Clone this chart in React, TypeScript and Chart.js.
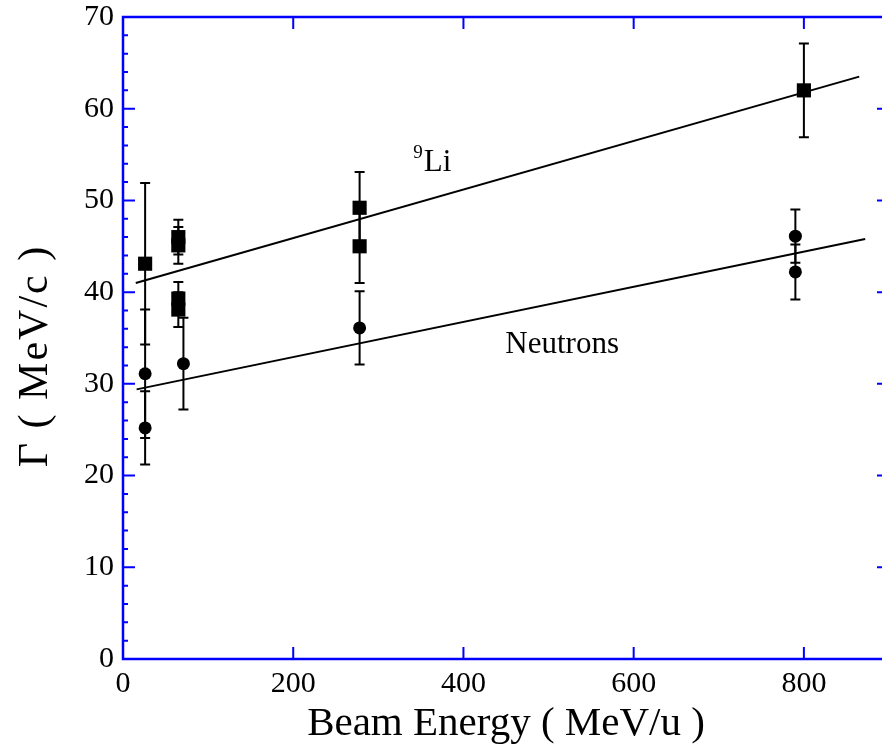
import { useEffect, useRef } from 'react';
import { Chart, registerables } from 'chart.js';

Chart.register(...registerables);

// Axis ticks
const xTicks = [0, 200, 400, 600, 800];
const yTicks = [0, 10, 20, 30, 40, 50, 60, 70];
const yMinorStep = 2;

// 9Li fragment widths
const liEnergy = [26, 65, 65, 65, 65, 278, 278, 800];
const liGamma = [43.1, 46.0, 45.1, 39.3, 38.1, 49.2, 45.0, 62.0];
const liError = [8.8, 1.9, 2.0, 1.8, 1.9, 3.9, 4.0, 5.1];

// Neutron widths
const nEnergy = [26, 26, 71, 278, 790, 790];
const nGamma = [31.1, 25.2, 32.2, 36.1, 46.1, 42.2];
const nError = [7.0, 4.0, 5.0, 4.0, 2.9, 3.0];

// Linear fits (end points)
const liFitEnergy = [15, 865];
const liFitGamma = [41.0, 63.5];
const nFitEnergy = [16, 872];
const nFitGamma = [29.4, 45.8];

// Curve labels (left / baseline anchored for 9Li, centred for neutrons)
const liLabel = { x: 341, y: 53.2, mass: '9', name: 'Li' };
const nLabel = { x: 516, y: 33.4, text: 'Neutrons' };

const xTitle = 'Beam Energy ( MeV/u )';
const yTitle = 'Γ ( MeV/c )';

const FONT = '"Liberation Serif", "Times New Roman", serif';
const AXIS_BLUE = '#0000ff';

// The plot frame runs slightly past the right edge of the view.
const CANVAS_W = 890;
const CANVAS_H = 751;

const toPoints = (xs: number[], ys: number[]) => xs.map((x, i) => ({ x, y: ys[i] }));

const errorBarPlugin = {
  id: 'errorBars',
  beforeDatasetsDraw(chart: any) {
    const { ctx } = chart;
    const xs = chart.scales.x;
    const ys = chart.scales.y;
    const groups = [
      { e: liEnergy, g: liGamma, err: liError },
      { e: nEnergy, g: nGamma, err: nError },
    ];
    ctx.save();
    ctx.strokeStyle = '#000';
    ctx.lineWidth = 2;
    for (const grp of groups) {
      grp.e.forEach((en, i) => {
        const px = xs.getPixelForValue(en);
        const top = ys.getPixelForValue(grp.g[i] + grp.err[i]);
        const bot = ys.getPixelForValue(grp.g[i] - grp.err[i]);
        ctx.beginPath();
        ctx.moveTo(px, top);
        ctx.lineTo(px, bot);
        ctx.moveTo(px - 5, top);
        ctx.lineTo(px + 5, top);
        ctx.moveTo(px - 5, bot);
        ctx.lineTo(px + 5, bot);
        ctx.stroke();
      });
    }
    ctx.restore();
  },
};

const framePlugin = {
  id: 'frame',
  afterDatasetsDraw(chart: any) {
    const { ctx, chartArea: a } = chart;
    const xs = chart.scales.x;
    const ys = chart.scales.y;
    ctx.save();
    ctx.strokeStyle = AXIS_BLUE;
    ctx.lineWidth = 2.5;
    ctx.strokeRect(a.left, a.top, a.right - a.left, a.bottom - a.top);
    ctx.lineWidth = 2;
    ctx.beginPath();
    for (const v of xTicks) {
      const px = xs.getPixelForValue(v);
      ctx.moveTo(px, a.bottom);
      ctx.lineTo(px, a.bottom - 12);
      ctx.moveTo(px, a.top);
      ctx.lineTo(px, a.top + 12);
    }
    const yMax = yTicks[yTicks.length - 1];
    for (let v = yTicks[0]; v <= yMax; v += yMinorStep) {
      const py = ys.getPixelForValue(v);
      const len = v % 10 === 0 ? 12 : 5;
      ctx.moveTo(a.left, py);
      ctx.lineTo(a.left + len, py);
      ctx.moveTo(a.right, py);
      ctx.lineTo(a.right - len, py);
    }
    ctx.stroke();
    ctx.restore();
  },
};

const labelPlugin = {
  id: 'labels',
  afterDraw(chart: any) {
    const { ctx, chartArea: a } = chart;
    const xs = chart.scales.x;
    const ys = chart.scales.y;
    ctx.save();
    ctx.fillStyle = '#000';

    // axis titles
    ctx.font = `41px ${FONT}`;
    ctx.textAlign = 'center';
    ctx.textBaseline = 'alphabetic';
    ctx.fillText(xTitle, (a.left + a.right) / 2, 735);

    ctx.save();
    ctx.translate(36, 356);
    ctx.rotate(-Math.PI / 2);
    ctx.textBaseline = 'middle';
    ctx.font = `42px ${FONT}`;
    (ctx as any).letterSpacing = '2px';
    ctx.fillText(yTitle, 0, 0);
    ctx.restore();

    // curve labels
    ctx.textBaseline = 'alphabetic';
    ctx.textAlign = 'center';
    ctx.font = `31px ${FONT}`;
    ctx.fillText(nLabel.text, xs.getPixelForValue(nLabel.x), ys.getPixelForValue(nLabel.y));

    const lx = xs.getPixelForValue(liLabel.x);
    const ly = ys.getPixelForValue(liLabel.y);
    ctx.textAlign = 'left';
    ctx.font = `19px ${FONT}`;
    const massW = ctx.measureText(liLabel.mass).width;
    ctx.fillText(liLabel.mass, lx, ly - 13);
    ctx.font = `31px ${FONT}`;
    ctx.fillText(liLabel.name, lx + massW + 1, ly);
    ctx.restore();
  },
};

export default function App() {
  const canvasRef = useRef<HTMLCanvasElement | null>(null);

  useEffect(() => {
    const canvas = canvasRef.current;
    if (!canvas) return;
    const chart = new Chart(canvas, {
      type: 'scatter',
      data: {
        datasets: [
          {
            label: '9Li fit',
            type: 'line',
            data: toPoints(liFitEnergy, liFitGamma),
            borderColor: '#000',
            borderWidth: 2,
            pointRadius: 0,
            showLine: true,
          },
          {
            label: 'Neutron fit',
            type: 'line',
            data: toPoints(nFitEnergy, nFitGamma),
            borderColor: '#000',
            borderWidth: 2,
            pointRadius: 0,
            showLine: true,
          },
          {
            label: '9Li',
            data: toPoints(liEnergy, liGamma),
            pointStyle: 'rect',
            pointRadius: 10,
            backgroundColor: '#000',
            borderColor: '#000',
            borderWidth: 0,
          },
          {
            label: 'Neutrons',
            data: toPoints(nEnergy, nGamma),
            pointStyle: 'circle',
            pointRadius: 6.5,
            backgroundColor: '#000',
            borderColor: '#000',
            borderWidth: 0,
          },
        ],
      },
      options: {
        animation: false,
        responsive: false,
        devicePixelRatio: 1,
        layout: { autoPadding: false, padding: { top: 17, right: 1, left: 0, bottom: 0 } },
        plugins: { legend: { display: false }, tooltip: { enabled: false } },
        scales: {
          x: {
            type: 'linear',
            min: 0,
            max: 900,
            grid: { display: false, drawTicks: false },
            border: { display: false },
            afterBuildTicks: (scale: any) => {
              scale.ticks = xTicks.map((v) => ({ value: v }));
            },
            afterFit: (scale: any) => {
              scale.height = 92;
              scale.paddingLeft = 0;
              scale.paddingRight = 0;
            },
            ticks: {
              color: '#000',
              font: { family: FONT, size: 30 },
              padding: 7,
              maxRotation: 0,
            },
          },
          y: {
            type: 'linear',
            min: 0,
            max: 70,
            grid: { display: false, drawTicks: false },
            border: { display: false },
            afterBuildTicks: (scale: any) => {
              scale.ticks = yTicks.map((v) => ({ value: v }));
            },
            afterFit: (scale: any) => {
              scale.width = 123;
              scale.paddingTop = 0;
              scale.paddingBottom = 0;
            },
            ticks: {
              color: '#000',
              font: { family: FONT, size: 30 },
              padding: 9,
            },
          },
        },
      },
      plugins: [errorBarPlugin, framePlugin, labelPlugin],
    });
    return () => chart.destroy();
  }, []);

  return (
    <div
      style={{
        position: 'fixed',
        left: 0,
        top: 0,
        width: 882,
        height: 751,
        overflow: 'hidden',
        background: '#fff',
      }}
    >
      <canvas
        ref={canvasRef}
        width={CANVAS_W}
        height={CANVAS_H}
        style={{ display: 'block', width: CANVAS_W, height: CANVAS_H, maxWidth: 'none' }}
      />
    </div>
  );
}
